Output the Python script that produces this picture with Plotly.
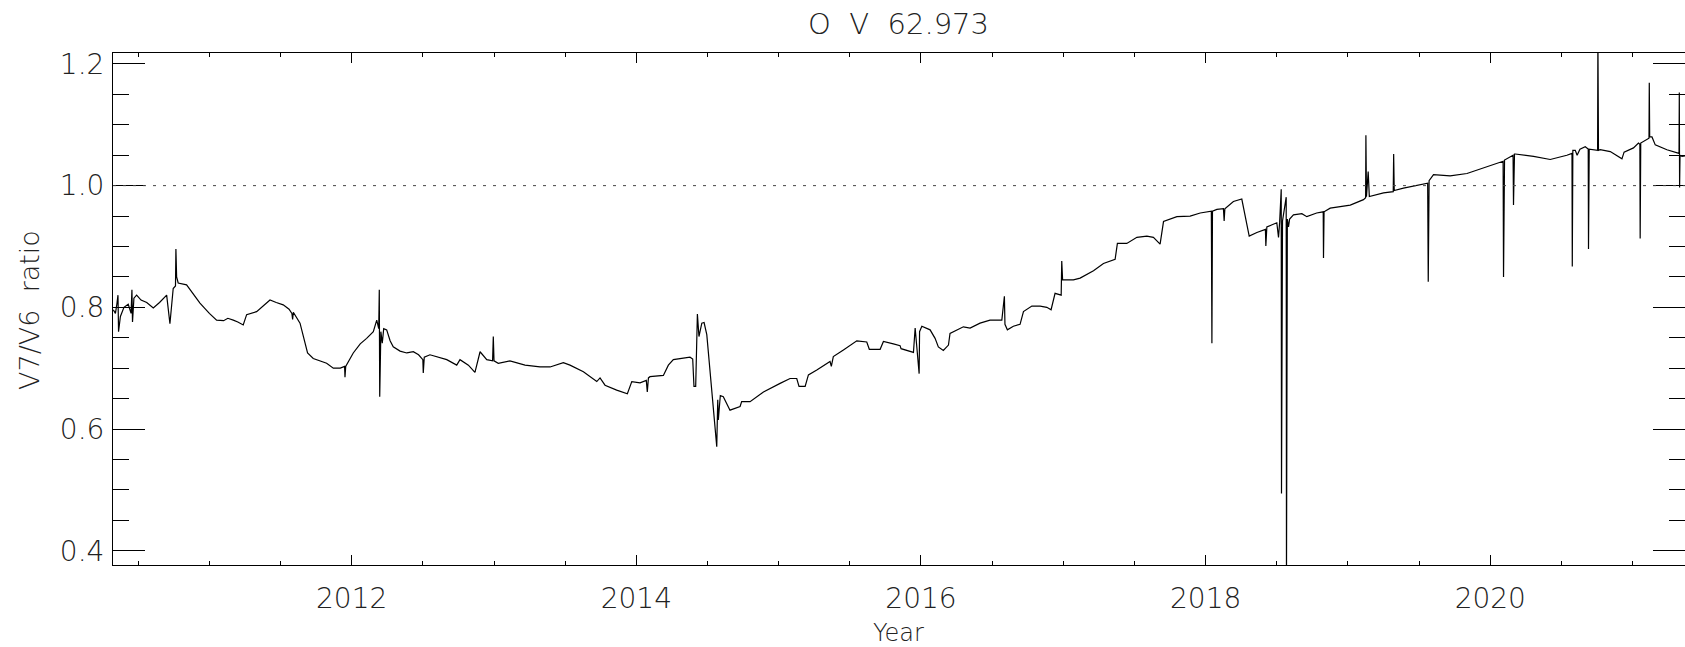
import plotly.graph_objects as go

# O V 62.973 line: V7/V6 intensity ratio versus time
years = [
    2010.325, 2010.340, 2010.350, 2010.358, 2010.362, 2010.375, 2010.400, 2010.430,
    2010.450, 2010.456, 2010.460, 2010.470, 2010.489, 2010.520, 2010.560, 2010.606,
    2010.650, 2010.700, 2010.723, 2010.735, 2010.746, 2010.762, 2010.765, 2010.770,
    2010.781, 2010.840, 2010.934, 2011.000, 2011.051, 2011.100, 2011.130, 2011.168,
    2011.200, 2011.238, 2011.262, 2011.332, 2011.380, 2011.426, 2011.470, 2011.519,
    2011.560, 2011.580, 2011.585, 2011.590, 2011.637, 2011.660, 2011.690, 2011.730,
    2011.780, 2011.824, 2011.871, 2011.920, 2011.950, 2011.953, 2011.958, 2012.011,
    2012.060, 2012.105, 2012.152, 2012.176, 2012.190, 2012.194, 2012.197, 2012.205,
    2012.215, 2012.225, 2012.246, 2012.270, 2012.292, 2012.340, 2012.387, 2012.433,
    2012.470, 2012.500, 2012.503, 2012.510, 2012.550, 2012.610, 2012.668, 2012.738,
    2012.761, 2012.820, 2012.866, 2012.902, 2012.949, 2012.990, 2012.995, 2013.000,
    2013.030, 2013.112, 2013.218, 2013.323, 2013.394, 2013.487, 2013.534, 2013.628,
    2013.722, 2013.745, 2013.780, 2013.862, 2013.937, 2013.968, 2014.026, 2014.070,
    2014.077, 2014.085, 2014.096, 2014.190, 2014.225, 2014.260, 2014.377, 2014.396,
    2014.405, 2014.417, 2014.429, 2014.440, 2014.460, 2014.476, 2014.495, 2014.565,
    2014.572, 2014.576, 2014.590, 2014.611, 2014.658, 2014.729, 2014.740, 2014.799,
    2014.893, 2015.010, 2015.080, 2015.127, 2015.143, 2015.186, 2015.209, 2015.268,
    2015.361, 2015.370, 2015.384, 2015.455, 2015.549, 2015.619, 2015.637, 2015.713,
    2015.736, 2015.806, 2015.853, 2015.860, 2015.947, 2015.959, 2015.987, 2015.990,
    2016.006, 2016.064, 2016.099, 2016.122, 2016.157, 2016.193, 2016.204, 2016.298,
    2016.345, 2016.415, 2016.485, 2016.568, 2016.586, 2016.590, 2016.607, 2016.649,
    2016.696, 2016.720, 2016.779, 2016.837, 2016.884, 2016.914, 2016.942, 2016.985,
    2016.989, 2016.995, 2017.013, 2017.071, 2017.118, 2017.212, 2017.282, 2017.364,
    2017.380, 2017.446, 2017.517, 2017.587, 2017.633, 2017.680, 2017.704, 2017.798,
    2017.891, 2017.962, 2018.040, 2018.044, 2018.048, 2018.079, 2018.125, 2018.130,
    2018.135, 2018.195, 2018.254, 2018.306, 2018.360, 2018.420, 2018.423, 2018.430,
    2018.500, 2018.512, 2018.520, 2018.531, 2018.533, 2018.540, 2018.566, 2018.568,
    2018.574, 2018.582, 2018.590, 2018.617, 2018.676, 2018.711, 2018.780, 2018.826,
    2018.828, 2018.832, 2018.875, 2019.016, 2019.109, 2019.124, 2019.126, 2019.130,
    2019.142, 2019.150, 2019.250, 2019.318, 2019.321, 2019.325, 2019.390, 2019.484,
    2019.560, 2019.564, 2019.570, 2019.601, 2019.718, 2019.836, 2019.952, 2020.046,
    2020.090, 2020.093, 2020.100, 2020.160, 2020.163, 2020.170, 2020.175, 2020.304,
    2020.421, 2020.538, 2020.574, 2020.576, 2020.580, 2020.597, 2020.610, 2020.630,
    2020.667, 2020.688, 2020.690, 2020.695, 2020.754, 2020.756, 2020.760, 2020.772,
    2020.843, 2020.925, 2020.940, 2021.006, 2021.041, 2021.051, 2021.053, 2021.057,
    2021.088, 2021.115, 2021.117, 2021.120, 2021.136, 2021.159, 2021.241, 2021.326,
    2021.328, 2021.330, 2021.333, 2021.347, 2021.368,
]

ratio = [
    0.796, 0.790, 0.805, 0.820, 0.760, 0.785, 0.800, 0.805,
    0.790, 0.829, 0.776, 0.815, 0.820, 0.812, 0.808, 0.799,
    0.808, 0.820, 0.773, 0.812, 0.831, 0.835, 0.896, 0.850,
    0.840, 0.837, 0.807, 0.790, 0.779, 0.778, 0.782, 0.779,
    0.776, 0.771, 0.788, 0.793, 0.803, 0.812, 0.808, 0.804,
    0.797, 0.790, 0.780, 0.792, 0.774, 0.752, 0.725, 0.716,
    0.712, 0.708, 0.700, 0.700, 0.703, 0.685, 0.703, 0.725,
    0.740, 0.749, 0.760, 0.779, 0.765, 0.829, 0.653, 0.760,
    0.741, 0.765, 0.763, 0.745, 0.735, 0.728, 0.725, 0.727,
    0.722, 0.714, 0.692, 0.718, 0.722, 0.718, 0.714, 0.705,
    0.714, 0.705, 0.693, 0.727, 0.714, 0.712, 0.752, 0.712,
    0.708, 0.712, 0.705, 0.702, 0.702, 0.709, 0.705, 0.694,
    0.678, 0.684, 0.672, 0.664, 0.658, 0.678, 0.676, 0.680,
    0.661, 0.684, 0.686, 0.688, 0.705, 0.714, 0.718, 0.715,
    0.670, 0.670, 0.789, 0.752, 0.774, 0.775, 0.755, 0.571,
    0.648, 0.615, 0.655, 0.653, 0.631, 0.637, 0.645, 0.645,
    0.661, 0.675, 0.683, 0.683, 0.670, 0.670, 0.689, 0.697,
    0.711, 0.703, 0.719, 0.730, 0.745, 0.743, 0.731, 0.731,
    0.744, 0.740, 0.737, 0.732, 0.726, 0.766, 0.691, 0.760,
    0.769, 0.763, 0.749, 0.735, 0.729, 0.738, 0.757, 0.768,
    0.766, 0.774, 0.779, 0.779, 0.818, 0.772, 0.763, 0.769,
    0.772, 0.793, 0.802, 0.802, 0.800, 0.796, 0.823, 0.820,
    0.876, 0.845, 0.845, 0.845, 0.848, 0.860, 0.872, 0.879,
    0.905, 0.905, 0.915, 0.917, 0.915, 0.904, 0.941, 0.949,
    0.950, 0.955, 0.958, 0.741, 0.958, 0.961, 0.962, 0.942,
    0.962, 0.974, 0.978, 0.917, 0.923, 0.928, 0.901, 0.932,
    0.939, 0.915, 0.940, 0.994, 0.494, 0.942, 0.981, 0.350,
    0.945, 0.932, 0.945, 0.952, 0.954, 0.949, 0.955, 0.957,
    0.881, 0.957, 0.963, 0.968, 0.977, 0.980, 1.083, 0.982,
    1.023, 0.982, 0.988, 0.990, 1.052, 0.992, 0.996, 1.001,
    1.004, 0.842, 1.008, 1.018, 1.016, 1.020, 1.029, 1.036,
    1.040, 0.850, 1.042, 1.050, 0.968, 1.052, 1.052, 1.048,
    1.043, 1.050, 1.053, 0.867, 1.058, 1.058, 1.050, 1.060,
    1.064, 1.060, 0.896, 1.060, 1.058, 1.250, 1.058, 1.059,
    1.056, 1.044, 1.055, 1.062, 1.070, 1.068, 0.913, 1.070,
    1.075, 1.078, 1.169, 1.080, 1.080, 1.067, 1.059, 1.053,
    1.153, 0.997, 1.050, 1.048, 1.049,
]

x_range = [2010.323, 2021.368]
y_range = [0.3765, 1.218]
reference_level = 1.0

title_text = "O\u00a0\u00a0V\u00a0\u00a062.973"
x_title = "Year"
y_title = "V7/V6\u00a0\u00a0ratio"

FONT = "DejaVu Sans"
INK = "#222222"

fig = go.Figure()
fig.add_trace(go.Scatter(
    x=years, y=ratio, mode="lines",
    line=dict(color="black", width=1.2),
    hoverinfo="skip", showlegend=False,
))

# dotted line at unit ratio
fig.add_shape(
    type="line", xref="paper", yref="y",
    x0=0, x1=1, y0=reference_level, y1=reference_level,
    line=dict(color="#444444", width=1, dash="3px,7px"),
)

axis_common = dict(
    showline=True, linecolor="black", linewidth=1, mirror="ticks",
    ticks="inside", tickcolor="black", tickwidth=1,
    showgrid=False, zeroline=False,
    tickfont=dict(family=FONT, size=28, color=INK, weight=200),
)

fig.update_xaxes(
    range=x_range, tick0=2012, dtick=2, ticklen=10, ticklabelstandoff=8,
    minor=dict(tick0=2010, dtick=0.5, ticks="inside", ticklen=4,
               tickcolor="black", tickwidth=1, showgrid=False),
    **axis_common,
)
fig.update_yaxes(
    range=y_range, tick0=0.4, dtick=0.2, ticklen=32, tickformat=".1f",
    ticklabelstandoff=2,
    minor=dict(tick0=0.4, dtick=0.05, ticks="inside", ticklen=16,
               tickcolor="black", tickwidth=1, showgrid=False),
    **axis_common,
)

fig.add_annotation(
    text=title_text, xref="paper", yref="paper", x=0.4994, y=1.056,
    xanchor="center", yanchor="middle", showarrow=False,
    font=dict(family=FONT, size=29, color=INK, weight=200),
)
fig.add_annotation(
    text=x_title, xref="paper", yref="paper", x=0.4994, y=-0.132,
    xanchor="center", yanchor="middle", showarrow=False,
    font=dict(family=FONT, size=24, color=INK, weight=200),
)
fig.add_annotation(
    text=y_title, xref="paper", yref="paper", x=-0.0535, y=0.498,
    xanchor="center", yanchor="middle", showarrow=False, textangle=-90,
    font=dict(family=FONT, size=27, color=INK, weight=200),
)

fig.update_layout(
    width=1685, height=647,
    margin=dict(l=113, r=0, t=53, b=82, pad=0),
    paper_bgcolor="white", plot_bgcolor="white",
)

fig.write_html("out.html")
